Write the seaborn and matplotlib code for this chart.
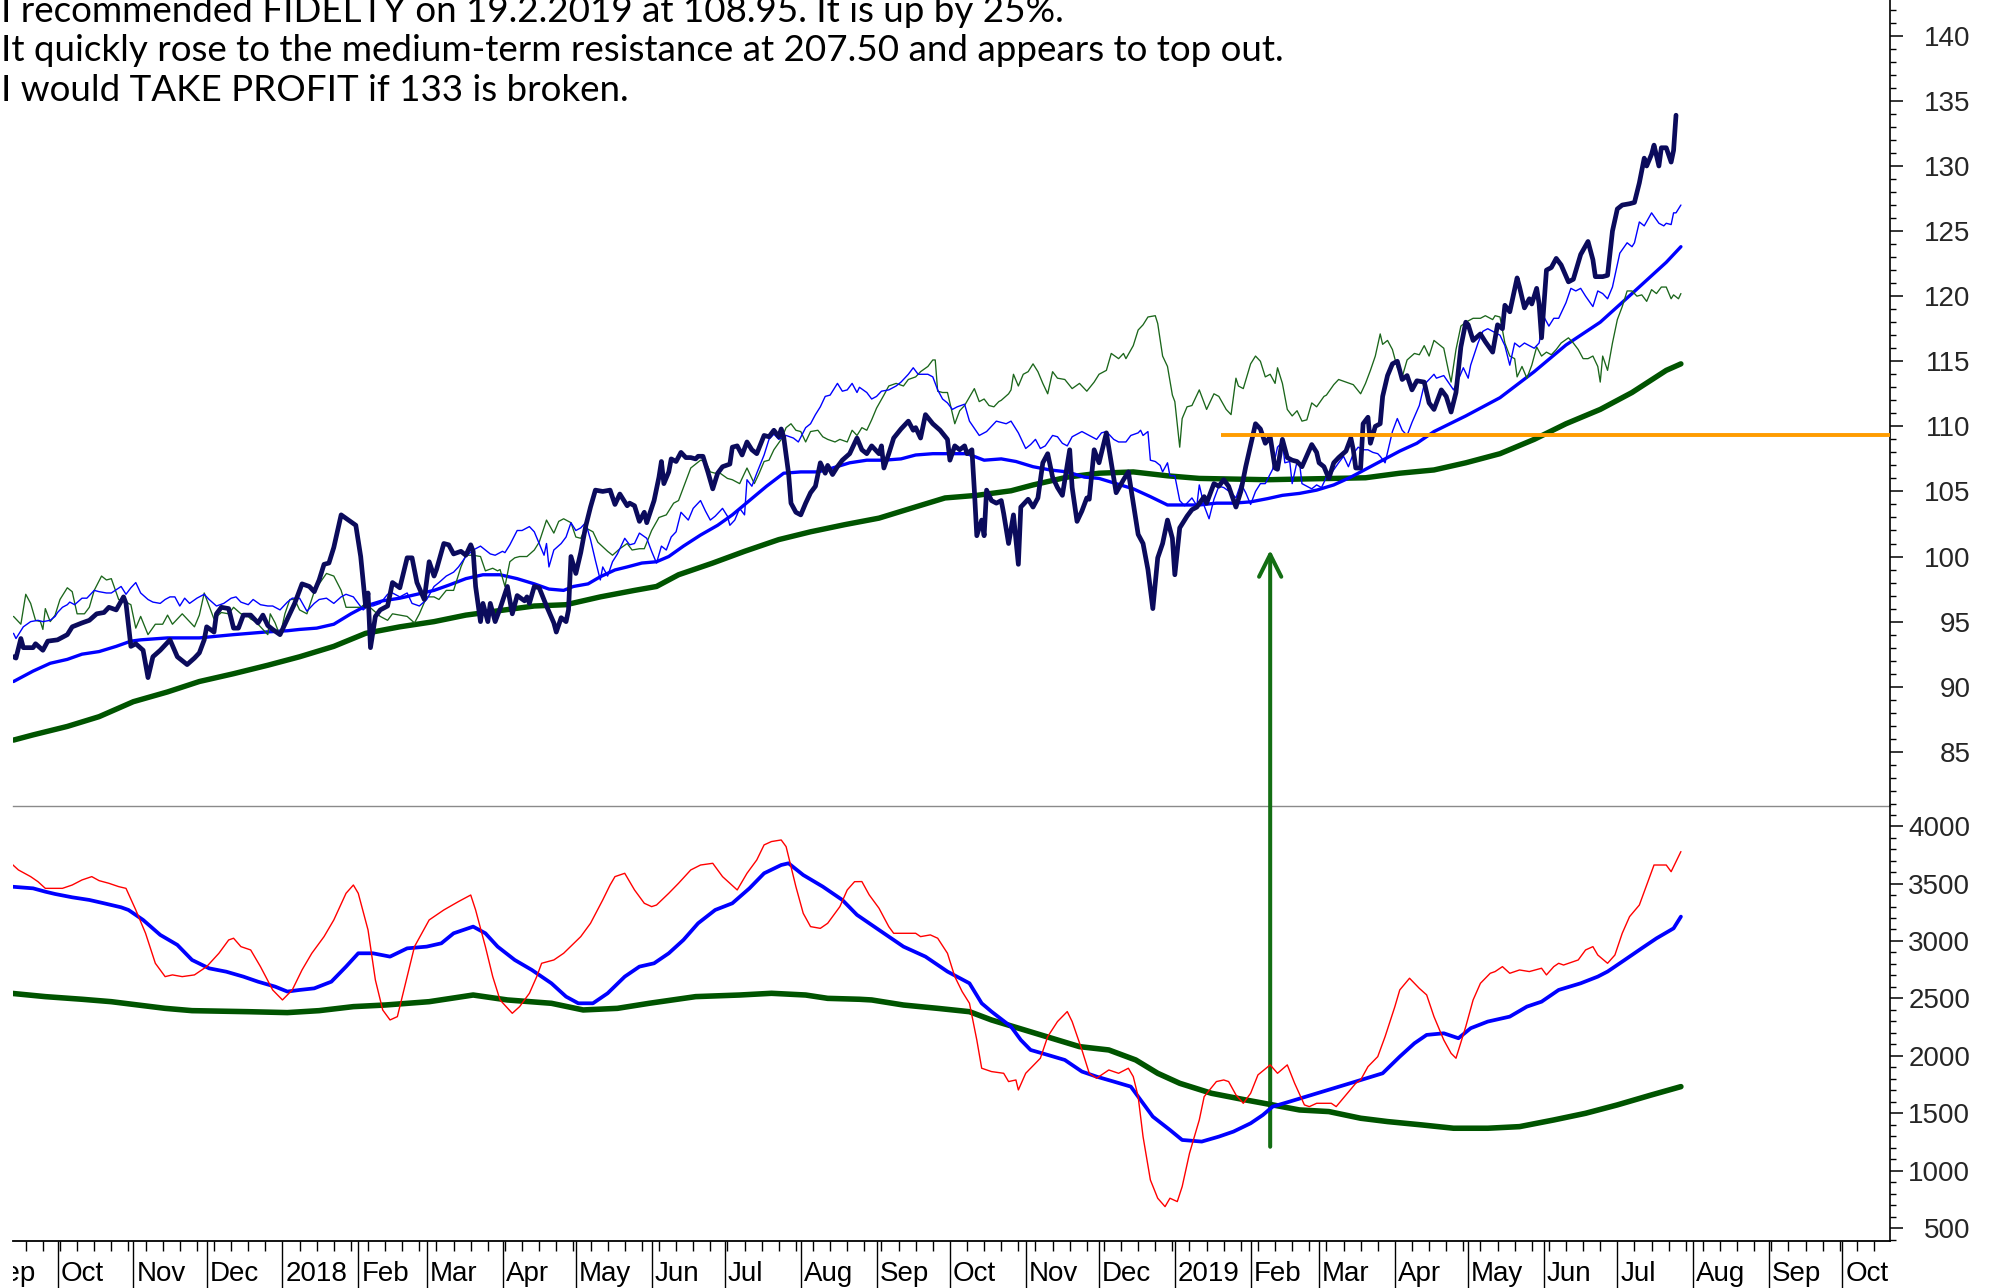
import numpy as np
import pandas as pd
import matplotlib
matplotlib.use("Agg")
import matplotlib.pyplot as plt
import matplotlib.dates as mdates
from matplotlib.ticker import MultipleLocator
from matplotlib.transforms import Bbox, TransformedBbox, ScaledTranslation, blended_transform_factory
import seaborn as sns

# day offsets below are counted from this date
BASE_DATE = pd.Timestamp("2017-10-01")

note_lines = [
    "I recommended FIDELTY on 19.2.2019 at 108.95. It is up by 25%.",
    "It quickly rose to the medium-term resistance at 207.50 and appears to top out.",
    "I would TAKE PROFIT if 133 is broken.",
]

# ---- upper panel (price) : (day, value) ----
price = [
    (-18, 92.3), (-17, 92.2), (-15, 93.7), (-14, 93.0), (-10, 93.0), (-9, 93.3), (-6, 92.8), (-4, 93.5),
    (0, 93.6), (4, 94.0), (6, 94.6), (10, 94.9), (13, 95.1), (16, 95.6), (19, 95.7), (21, 96.1),
    (24, 95.9), (27, 96.9), (28, 96.4), (30, 93.1), (32, 93.3), (35, 92.8), (37, 90.7), (39, 92.3),
    (42, 92.8), (46, 93.6), (49, 92.3), (53, 91.7), (56, 92.2), (58, 92.6), (60, 93.6), (61, 94.6),
    (64, 94.2), (65, 95.6), (67, 96.1), (70, 96.0), (72, 94.5), (74, 94.5), (76, 95.5), (79, 95.5),
    (82, 94.9), (84, 95.5), (86, 94.7), (88, 94.4), (91, 94.0), (94, 95.2), (97, 96.4), (100, 97.9),
    (103, 97.7), (105, 97.3), (107, 98.2), (109, 99.4), (111, 99.5), (113, 100.7), (116, 103.2),
    (119, 102.8), (122, 102.4), (124, 100.0), (126, 96.2), (127, 97.2), (128, 93.0), (130, 95.4),
    (132, 95.9), (135, 96.2), (137, 98.0), (140, 97.6), (143, 99.9), (145, 99.9), (147, 98.0),
    (150, 96.7), (152, 99.6), (154, 98.5), (155, 99.0), (158, 101.0), (160, 100.9), (162, 100.2),
    (165, 100.4), (167, 100.1), (169, 100.9), (170, 100.4), (171, 97.7), (173, 95.0), (174, 96.4),
    (176, 95.0), (177, 96.4), (179, 95.0), (181, 96.0), (184, 97.7), (186, 95.6), (188, 97.0),
    (191, 96.6), (192, 96.9), (193, 96.4), (195, 97.7), (197, 97.6), (200, 96.2), (203, 94.9),
    (204, 94.2), (206, 95.3), (208, 95.0), (209, 95.9), (210, 100.0), (212, 98.7), (214, 100.3),
    (216, 102.3), (218, 103.8), (220, 105.1), (223, 105.0), (226, 105.1), (228, 104.0), (230, 104.8),
    (233, 103.9), (234, 104.1), (236, 103.9), (238, 102.7), (240, 103.4), (241, 102.6), (244, 104.3),
    (246, 106.1), (247, 107.3), (248, 105.6), (250, 106.5), (251, 107.5), (253, 107.3), (255, 108.0),
    (257, 107.6), (259, 107.6), (261, 107.5), (262, 107.7), (264, 107.7), (266, 106.5), (268, 105.2),
    (270, 106.4), (272, 106.9), (275, 107.1), (276, 108.4), (278, 108.5), (280, 107.8), (282, 108.8),
    (284, 108.2), (286, 107.9), (289, 109.3), (291, 109.2), (293, 109.7), (295, 109.2), (296, 109.8),
    (297, 109.2), (299, 106.4), (300, 104.1), (302, 103.4), (304, 103.2), (306, 104.1), (308, 104.9),
    (310, 105.4), (312, 107.2), (314, 106.4), (315, 107.0), (317, 106.3), (319, 106.9), (321, 107.4),
    (324, 107.9), (327, 109.1), (329, 108.2), (331, 107.9), (333, 108.5), (336, 107.9), (337, 108.5),
    (338, 106.8), (340, 107.9), (342, 109.1), (345, 109.8), (348, 110.4), (350, 109.7), (351, 109.9),
    (353, 109.1), (355, 110.9), (358, 110.2), (361, 109.7), (364, 109.0), (365, 107.4), (367, 108.5),
    (369, 108.2), (371, 108.5), (372, 107.9), (374, 108.2), (375, 105.1), (376, 101.6), (378, 102.8),
    (379, 101.6), (380, 105.1), (382, 104.3), (384, 104.1), (386, 104.3), (387, 103.3), (389, 101.0),
    (391, 103.2), (393, 99.4), (394, 103.8), (397, 104.4), (399, 103.8), (401, 104.5), (403, 107.2),
    (405, 107.9), (407, 106.1), (409, 105.3), (411, 104.7), (414, 108.2), (415, 105.3), (417, 102.7),
    (419, 103.5), (421, 104.5), (422, 104.4), (424, 108.2), (426, 107.2), (429, 109.5), (431, 107.2),
    (433, 104.9), (436, 105.9), (438, 106.5), (440, 104.1), (442, 101.7), (444, 101.0), (446, 99.0),
    (448, 96.0), (450, 99.9), (452, 101.0), (454, 102.8), (456, 101.4), (457, 98.6), (459, 102.2),
    (462, 103.1), (464, 103.6), (466, 103.8), (469, 104.6), (470, 104.1), (473, 105.6), (475, 105.4),
    (477, 105.9), (479, 105.4), (482, 103.8), (484, 105.0), (486, 106.9), (490, 110.2), (492, 109.8),
    (494, 108.7), (496, 109.2), (498, 106.8), (499, 106.7), (501, 109.0), (503, 107.6), (505, 107.4),
    (507, 107.3), (509, 106.9), (513, 108.6), (515, 108.0), (516, 107.2), (518, 106.9), (520, 106.0),
    (522, 107.2), (524, 107.6), (527, 108.1), (529, 109.1), (530, 108.2), (531, 106.8), (533, 106.8),
    (534, 110.2), (536, 110.7), (537, 108.7), (539, 110.0), (541, 110.2), (542, 112.3), (544, 113.9),
    (546, 114.8), (548, 115.0), (550, 113.6), (552, 113.9), (554, 112.8), (556, 113.5), (559, 113.4),
    (561, 111.8), (563, 111.3), (566, 112.8), (568, 112.3), (570, 111.1), (572, 112.6), (574, 116.1),
    (576, 118.0), (577, 117.8), (579, 116.6), (582, 117.1), (584, 116.5), (587, 115.7), (589, 117.8),
    (591, 117.5), (592, 119.3), (594, 118.8), (597, 121.4), (598, 120.7), (600, 119.1), (602, 119.8),
    (603, 119.4), (605, 120.6), (606, 119.4), (607, 116.8), (609, 122.0), (611, 122.2), (613, 122.9),
    (615, 122.4), (618, 121.1), (620, 121.3), (623, 123.2), (626, 124.2), (628, 122.8), (629, 121.5),
    (632, 121.5), (634, 121.6), (636, 125.0), (638, 126.7), (640, 127.0), (643, 127.1), (645, 127.2),
    (647, 128.7), (649, 130.6), (650, 130.0), (652, 130.9), (653, 131.6), (655, 130.0), (656, 131.4),
    (658, 131.4), (660, 130.3), (661, 131.2), (662, 133.9),
]

fast_line = [
    (-18, 94.1), (-17, 93.7), (-14, 94.6), (-11, 95.0), (-8, 95.1), (-6, 95.0), (-3, 95.1), (-1, 95.4),
    (0, 95.7), (2, 96.1), (4, 96.3), (5, 96.5), (7, 96.3), (10, 96.8), (12, 96.8), (15, 97.4),
    (17, 97.3), (20, 97.2), (22, 97.2), (26, 97.7), (28, 97.1), (30, 97.6), (32, 98.0), (34, 97.2),
    (37, 96.7), (39, 96.5), (42, 96.4), (44, 96.7), (46, 96.9), (48, 96.9), (50, 96.2), (52, 96.8),
    (54, 96.4), (57, 96.8), (60, 97.1), (62, 96.7), (65, 96.2), (68, 96.4), (71, 96.8), (73, 96.9),
    (75, 96.5), (78, 96.3), (80, 96.7), (83, 96.3), (86, 96.2), (88, 96.2), (91, 95.9), (94, 96.5),
    (96, 96.8), (99, 96.8), (102, 95.8), (105, 96.4), (107, 96.7), (110, 96.8), (113, 96.4),
    (116, 96.9), (118, 97.1), (121, 96.9), (123, 96.4), (125, 95.9), (127, 96.2), (129, 96.2),
    (132, 96.4), (135, 97.1), (137, 97.2), (140, 96.9), (143, 97.2), (145, 96.4), (148, 96.2),
    (151, 96.7), (154, 97.7), (156, 98.0), (159, 98.5), (162, 98.8), (164, 99.2), (167, 100.0),
    (170, 100.5), (173, 100.8), (175, 100.5), (177, 100.2), (179, 100.1), (182, 100.4), (183, 100.3),
    (185, 100.9), (188, 102.0), (190, 102.0), (193, 102.3), (195, 101.9), (197, 101.0), (199, 100.1),
    (200, 101.0), (201, 99.2), (203, 100.5), (206, 101.0), (208, 101.5), (210, 102.6), (212, 102.0),
    (214, 102.2), (216, 102.6), (218, 101.3), (220, 99.7), (222, 98.2), (223, 99.2), (225, 98.5),
    (227, 99.6), (229, 100.2), (232, 101.4), (234, 100.9), (236, 101.0), (238, 101.8), (241, 101.4),
    (243, 100.4), (245, 99.5), (247, 100.8), (249, 100.5), (251, 101.5), (253, 101.9), (255, 103.4),
    (258, 102.8), (260, 103.7), (263, 104.3), (265, 103.5), (267, 102.8), (269, 103.1), (272, 103.7),
    (274, 103.1), (275, 102.4), (277, 102.8), (279, 103.7), (281, 103.2), (282, 105.9), (284, 105.4),
    (286, 106.4), (289, 107.8), (291, 109.0), (293, 109.4), (295, 109.0), (298, 109.3), (301, 109.1),
    (303, 108.8), (306, 109.9), (308, 110.2), (310, 110.9), (312, 111.5), (314, 112.3), (316, 112.4),
    (319, 113.3), (321, 112.7), (323, 112.8), (325, 113.3), (327, 112.6), (328, 113.0), (331, 112.6),
    (333, 112.1), (335, 112.3), (337, 112.7), (340, 112.8), (343, 113.1), (345, 113.4), (348, 114.0),
    (350, 114.5), (352, 114.0), (354, 114.0), (356, 114.0), (358, 113.8), (360, 112.8), (362, 112.1),
    (364, 111.8), (366, 111.3), (368, 111.5), (371, 111.7), (373, 110.4), (377, 109.3), (380, 109.6),
    (384, 110.4), (388, 110.2), (390, 110.4), (393, 109.5), (396, 108.3), (398, 108.6), (400, 109.0),
    (402, 108.3), (404, 108.5), (407, 109.3), (409, 109.2), (411, 108.7), (413, 108.5), (415, 109.2),
    (419, 109.6), (422, 109.3), (425, 109.0), (427, 109.5), (429, 109.6), (432, 109.0), (434, 108.8),
    (437, 108.8), (439, 109.3), (442, 109.5), (443, 109.7), (444, 109.3), (446, 109.6), (447, 107.4),
    (449, 107.3), (451, 107.0), (452, 106.5), (454, 107.2), (455, 106.2), (457, 106.2), (459, 104.3),
    (461, 103.9), (464, 104.5), (466, 103.9), (467, 105.5), (469, 103.9), (471, 102.9), (473, 104.4),
    (475, 105.4), (477, 105.3), (480, 104.9), (482, 104.5), (484, 105.6), (486, 104.9), (488, 104.0),
    (490, 105.0), (492, 105.6), (494, 105.6), (497, 106.7), (499, 108.4), (501, 108.8), (502, 107.2),
    (504, 107.3), (505, 105.6), (507, 107.3), (508, 107.2), (509, 105.6), (511, 105.4), (513, 105.2),
    (515, 105.5), (517, 105.3), (519, 106.1), (521, 106.4), (524, 107.2), (526, 107.7), (528, 106.9),
    (530, 107.9), (532, 108.4), (534, 108.2), (536, 108.2), (538, 108.0), (540, 107.9), (541, 107.7),
    (543, 107.2), (546, 109.6), (548, 110.6), (550, 109.7), (552, 109.3), (554, 110.3), (557, 111.6),
    (559, 113.2), (560, 113.4), (563, 114.0), (564, 113.7), (567, 113.9), (571, 112.8), (573, 113.6),
    (575, 114.5), (577, 113.7), (578, 114.7), (581, 116.4), (583, 117.3), (585, 117.5), (588, 117.2),
    (590, 117.0), (592, 116.2), (594, 114.7), (596, 116.4), (598, 116.1), (600, 116.4), (604, 116.0),
    (606, 116.4), (607, 117.4), (608, 118.4), (610, 117.7), (612, 118.3), (614, 118.3), (617, 119.5),
    (619, 120.6), (621, 120.4), (623, 120.6), (625, 120.0), (628, 119.2), (630, 120.4), (632, 120.2),
    (634, 119.8), (636, 120.7), (639, 123.3), (642, 124.1), (644, 123.8), (645, 124.1), (647, 125.7),
    (649, 125.4), (652, 126.4), (655, 125.6), (657, 125.4), (658, 125.6), (660, 125.5), (661, 126.4),
    (662, 126.4), (664, 127.0),
]

green_line = [
    (-18, 95.4), (-15, 94.8), (-13, 97.1), (-11, 96.4), (-9, 95.1), (-7, 95.0), (-6, 94.4), (-5, 96.0),
    (-3, 95.0), (-1, 95.5), (1, 96.7), (4, 97.6), (6, 97.3), (8, 95.6), (11, 95.6), (13, 96.1),
    (15, 97.4), (18, 98.5), (20, 98.2), (22, 98.3), (25, 96.7), (28, 96.5), (30, 96.3), (32, 94.5),
    (34, 95.4), (37, 94.0), (40, 94.8), (43, 94.8), (45, 95.5), (47, 94.8), (51, 95.6), (53, 95.2),
    (56, 94.6), (58, 95.5), (60, 97.2), (62, 96.2), (64, 95.2), (67, 95.7), (70, 95.6), (72, 96.1),
    (75, 95.6), (77, 95.6), (79, 95.2), (81, 95.0), (83, 94.6), (86, 94.0), (87, 95.6), (89, 94.9),
    (91, 93.9), (93, 95.6), (95, 96.7), (97, 96.7), (99, 95.9), (102, 95.6), (105, 97.3), (107, 97.9),
    (110, 98.7), (113, 98.5), (116, 97.4), (118, 96.1), (121, 96.1), (124, 96.1), (126, 96.4),
    (129, 95.9), (132, 95.4), (135, 95.1), (137, 95.6), (140, 95.5), (143, 95.4), (146, 94.9),
    (148, 95.6), (151, 96.9), (154, 96.9), (156, 96.7), (159, 97.4), (162, 97.4), (165, 99.2),
    (167, 100.1), (170, 100.1), (173, 100.0), (175, 98.9), (178, 99.1), (180, 98.9), (181, 99.0),
    (183, 97.7), (185, 99.6), (187, 99.9), (189, 100.0), (192, 100.0), (195, 100.5), (197, 101.1),
    (200, 102.8), (203, 101.8), (205, 102.7), (207, 102.9), (210, 102.6), (212, 101.5), (214, 101.4),
    (216, 102.2), (219, 101.9), (221, 101.1), (225, 100.4), (227, 100.1), (230, 100.6), (233, 101.0),
    (235, 100.5), (238, 100.6), (240, 100.6), (243, 102.0), (246, 103.0), (249, 103.2), (252, 104.1),
    (254, 104.3), (257, 105.8), (259, 106.8), (263, 107.4), (265, 107.3), (267, 106.5), (269, 106.4),
    (271, 106.4), (274, 106.0), (276, 105.9), (279, 105.6), (282, 106.8), (285, 105.6), (287, 106.4),
    (289, 107.3), (291, 107.4), (293, 108.2), (296, 109.0), (298, 109.9), (300, 110.2), (302, 109.7),
    (304, 109.6), (306, 108.8), (308, 109.6), (311, 109.7), (313, 109.2), (315, 109.0), (318, 108.8),
    (320, 109.0), (323, 108.8), (325, 109.7), (327, 109.3), (329, 109.9), (331, 109.7), (333, 110.5),
    (335, 111.4), (338, 112.4), (340, 113.1), (343, 113.3), (346, 113.1), (348, 113.6), (351, 113.8),
    (353, 114.2), (356, 114.6), (358, 115.1), (359, 115.1), (360, 112.7), (362, 112.6), (364, 112.6),
    (367, 110.2), (369, 111.2), (371, 111.6), (375, 112.9), (377, 111.9), (379, 112.1), (381, 111.6),
    (383, 111.5), (385, 111.9), (386, 112.0), (389, 112.5), (390, 112.8), (391, 114.0), (393, 113.1),
    (395, 114.0), (397, 114.2), (399, 114.8), (401, 114.2), (403, 113.3), (405, 112.5), (407, 114.2),
    (409, 113.7), (412, 113.6), (415, 112.9), (418, 113.3), (421, 112.7), (424, 113.4), (426, 114.0),
    (429, 114.3), (431, 115.6), (434, 115.2), (436, 115.6), (437, 115.2), (440, 116.2), (442, 117.4),
    (444, 117.8), (446, 118.4), (449, 118.5), (450, 117.9), (452, 115.4), (454, 114.6), (456, 112.4),
    (457, 111.9), (459, 108.4), (460, 110.6), (462, 111.5), (464, 111.6), (467, 112.8), (468, 112.3),
    (470, 111.3), (473, 112.5), (475, 112.3), (478, 111.3), (480, 110.9), (482, 113.7), (483, 113.1),
    (485, 112.9), (488, 114.8), (490, 115.4), (492, 115.0), (494, 113.8), (496, 114.0), (498, 113.3),
    (499, 114.5), (501, 113.3), (503, 111.3), (505, 110.8), (507, 111.2), (509, 110.4), (511, 110.5),
    (513, 111.8), (515, 111.5), (518, 112.3), (519, 112.4), (522, 113.2), (524, 113.6), (527, 113.4),
    (530, 113.2), (533, 112.5), (535, 113.3), (537, 114.3), (539, 115.4), (541, 117.1), (542, 116.3),
    (544, 116.6), (546, 115.9), (548, 114.5), (550, 113.8), (552, 115.1), (555, 115.6), (557, 115.5),
    (559, 116.2), (561, 115.4), (563, 116.6), (565, 116.3), (567, 116.0), (569, 114.2), (570, 113.4),
    (572, 115.9), (574, 117.7), (576, 118.0), (579, 118.3), (582, 118.3), (584, 118.5), (587, 118.2),
    (588, 118.5), (590, 118.4), (592, 116.4), (594, 115.4), (596, 115.2), (597, 113.8), (599, 114.6),
    (601, 113.7), (603, 114.7), (605, 116.1), (607, 115.4), (609, 115.7), (611, 115.5), (613, 115.9),
    (615, 116.4), (618, 116.8), (620, 116.4), (622, 115.9), (624, 115.2), (626, 115.2), (628, 115.4),
    (630, 114.6), (631, 113.4), (632, 115.4), (634, 114.3), (636, 116.4), (638, 118.2), (640, 119.2),
    (642, 120.4), (644, 120.4), (646, 120.0), (648, 120.1), (650, 119.6), (652, 120.5), (654, 120.2),
    (656, 120.7), (658, 120.7), (660, 119.8), (661, 120.1), (663, 119.8), (664, 120.2),
]

ma_medium = [
    (-18, 90.4), (-10, 91.2), (-3, 91.8), (4, 92.1), (10, 92.5), (17, 92.7), (24, 93.1), (30, 93.5),
    (34, 93.6), (45, 93.75), (58, 93.75), (72, 94.0), (85, 94.2), (94, 94.3), (99, 94.4), (106, 94.5),
    (113, 94.8), (120, 95.6), (126, 96.2), (133, 96.6), (140, 96.8), (147, 97.1), (154, 97.4),
    (160, 97.8), (167, 98.3), (174, 98.6), (181, 98.6), (188, 98.3), (195, 97.9), (201, 97.5),
    (207, 97.4), (211, 97.7), (217, 97.9), (222, 98.45), (228, 98.97), (233, 99.2), (239, 99.5),
    (245, 99.6), (250, 100.0), (256, 100.8), (263, 101.65), (270, 102.4), (276, 103.2), (283, 104.3),
    (290, 105.4), (297, 106.4), (304, 106.5), (311, 106.5), (317, 106.8), (324, 107.2), (331, 107.4),
    (338, 107.4), (345, 107.5), (351, 107.8), (358, 107.9), (365, 107.9), (372, 107.9), (379, 107.4),
    (386, 107.5), (392, 107.3), (399, 106.9), (406, 106.65), (413, 106.5), (420, 106.1), (426, 106.0),
    (433, 105.6), (440, 105.2), (447, 104.6), (454, 103.96), (460, 103.96), (467, 103.96),
    (474, 104.1), (481, 104.1), (488, 104.2), (495, 104.45), (501, 104.7), (508, 104.85), (515, 105.1),
    (522, 105.5), (529, 106.1), (536, 106.8), (542, 107.4), (549, 108.1), (556, 108.7), (563, 109.6),
    (576, 110.8), (590, 112.2), (604, 114.2), (617, 116.25), (631, 118.0), (644, 120.2),
    (658, 122.6), (664, 123.8),
]

ma_long = [
    (-18, 85.9), (-10, 86.3), (4, 86.95), (17, 87.7), (31, 88.85), (45, 89.6), (58, 90.4), (72, 91.0),
    (86, 91.65), (99, 92.3), (113, 93.1), (126, 94.1), (140, 94.6), (154, 95.0), (167, 95.5),
    (181, 95.85), (195, 96.2), (208, 96.3), (222, 96.9), (236, 97.4), (245, 97.7), (254, 98.6),
    (268, 99.5), (281, 100.4), (295, 101.3), (308, 101.9), (322, 102.45), (336, 102.95), (349, 103.7),
    (363, 104.5), (376, 104.7), (390, 105.05), (399, 105.5), (413, 106.1), (426, 106.4), (440, 106.5),
    (454, 106.2), (467, 106.0), (481, 105.95), (495, 105.9), (508, 105.95), (522, 106.0),
    (535, 106.05), (549, 106.4), (563, 106.65), (576, 107.2), (590, 107.9), (604, 109.0),
    (617, 110.2), (631, 111.3), (644, 112.6), (658, 114.3), (664, 114.8),
]

resistance_level = 109.35
resistance_start_day = 476

# ---- lower panel (oscillator) : (day, value) ----
osc = [
    (-19, 3676), (-16, 3618), (-11, 3560), (-8, 3516), (-5, 3458), (2, 3458), (6, 3487), (10, 3531),
    (14, 3560), (17, 3525), (21, 3502), (25, 3473), (28, 3458), (32, 3270), (36, 3067), (40, 2806),
    (44, 2690), (47, 2705), (51, 2690), (56, 2705), (61, 2777), (66, 2893), (70, 3009), (72, 3024),
    (75, 2951), (79, 2922), (83, 2777), (88, 2574), (92, 2487), (96, 2574), (100, 2748), (104, 2893),
    (109, 3038), (113, 3183), (118, 3415), (121, 3487), (123, 3415), (127, 3096), (130, 2661),
    (133, 2400), (136, 2313), (139, 2342), (142, 2603), (146, 2951), (149, 3067), (152, 3183),
    (158, 3270), (164, 3343), (169, 3400), (171, 3270), (175, 2951), (178, 2690), (181, 2487),
    (186, 2371), (189, 2429), (193, 2545), (196, 2690), (198, 2806), (203, 2835), (207, 2893),
    (214, 3038), (218, 3154), (223, 3357), (226, 3487), (228, 3560), (232, 3589), (236, 3444),
    (240, 3328), (243, 3299), (245, 3313), (250, 3415), (254, 3502), (259, 3618), (263, 3661),
    (268, 3676), (272, 3560), (278, 3444), (282, 3589), (286, 3705), (289, 3836), (292, 3865),
    (296, 3879), (298, 3821), (302, 3473), (305, 3241), (308, 3125), (312, 3110), (315, 3154),
    (320, 3299), (323, 3444), (326, 3516), (329, 3517), (332, 3401), (336, 3285), (340, 3125),
    (342, 3067), (351, 3067), (353, 3038), (357, 3053), (360, 3024), (364, 2893), (367, 2690),
    (370, 2560), (373, 2458), (376, 2139), (378, 1893), (382, 1864), (387, 1849), (389, 1777),
    (392, 1791), (393, 1704), (396, 1849), (400, 1936), (402, 1980), (405, 2168), (409, 2299),
    (411, 2342), (413, 2386), (415, 2299), (419, 2052), (422, 1849), (425, 1806), (430, 1878),
    (434, 1849), (438, 1893), (440, 1820), (442, 1646), (444, 1298), (447, 921), (450, 762),
    (453, 689), (455, 762), (458, 733), (460, 863), (463, 1153), (467, 1443), (469, 1646),
    (474, 1777), (477, 1791), (479, 1777), (482, 1661), (485, 1588), (488, 1675), (491, 1835),
    (496, 1922), (499, 1849), (503, 1922), (506, 1762), (510, 1574), (512, 1559), (515, 1588),
    (521, 1588), (523, 1559), (527, 1661), (531, 1762), (533, 1791), (536, 1907), (540, 1994),
    (543, 2168), (547, 2429), (549, 2574), (553, 2676), (557, 2588), (560, 2531), (563, 2342),
    (567, 2139), (570, 2023), (572, 1980), (576, 2255), (579, 2487), (582, 2632), (586, 2719),
    (588, 2734), (591, 2777), (594, 2719), (598, 2748), (602, 2734), (607, 2763), (609, 2705),
    (612, 2777), (614, 2806), (616, 2791), (622, 2835), (625, 2922), (628, 2951), (630, 2878),
    (634, 2806), (637, 2878), (640, 3067), (643, 3212), (647, 3313), (650, 3488), (653, 3661),
    (658, 3661), (660, 3603), (664, 3778),
]

osc_fast = [
    (-19, 3473), (-10, 3458), (-5, 3429), (-1, 3409), (6, 3380), (13, 3357), (19, 3328), (26, 3293),
    (29, 3270), (35, 3183), (42, 3053), (49, 2966), (55, 2835), (62, 2762), (69, 2733), (76, 2690),
    (82, 2646), (89, 2603), (94, 2560), (99, 2574), (105, 2588), (112, 2646), (118, 2777), (123, 2893),
    (129, 2893), (136, 2864), (143, 2936), (151, 2951), (157, 2980), (162, 3067), (170, 3125),
    (175, 3067), (180, 2951), (187, 2835), (194, 2748), (202, 2632), (208, 2516), (213, 2458),
    (219, 2458), (225, 2545), (232, 2690), (238, 2777), (244, 2806), (250, 2893), (256, 3009),
    (262, 3154), (269, 3270), (276, 3328), (283, 3458), (289, 3589), (296, 3661), (299, 3676),
    (305, 3574), (313, 3473), (321, 3357), (327, 3227), (338, 3067), (346, 2951), (355, 2864),
    (364, 2734), (373, 2632), (378, 2458), (382, 2386), (390, 2255), (394, 2139), (398, 2052),
    (405, 2009), (412, 1965), (419, 1864), (425, 1820), (432, 1777), (439, 1733), (443, 1617),
    (448, 1472), (455, 1356), (460, 1269), (468, 1255), (475, 1298), (481, 1342), (488, 1414),
    (493, 1486), (497, 1559), (504, 1603), (513, 1661), (522, 1719), (531, 1777), (542, 1849),
    (549, 1994), (555, 2110), (560, 2183), (567, 2197), (573, 2154), (578, 2241), (585, 2299),
    (594, 2342), (601, 2429), (607, 2472), (614, 2574), (623, 2632), (630, 2690), (634, 2734),
    (641, 2835), (648, 2937), (654, 3023), (661, 3110), (664, 3212),
]

osc_slow = [
    (-19, 2545), (-5, 2516), (10, 2493), (22, 2472), (33, 2443), (44, 2414), (55, 2394), (78, 2385),
    (94, 2377), (107, 2394), (121, 2429), (134, 2443), (152, 2472), (170, 2530), (184, 2487),
    (202, 2458), (215, 2400), (229, 2414), (242, 2458), (261, 2516), (279, 2530), (292, 2545),
    (306, 2530), (315, 2501), (328, 2493), (333, 2487), (346, 2443), (360, 2414), (373, 2385),
    (382, 2313), (391, 2255), (400, 2197), (409, 2139), (418, 2081), (430, 2052), (441, 1965),
    (450, 1849), (459, 1762), (472, 1675), (486, 1617), (497, 1574), (508, 1530), (520, 1516),
    (533, 1458), (544, 1429), (558, 1400), (571, 1371), (585, 1371), (598, 1385), (612, 1443),
    (625, 1501), (638, 1574), (652, 1661), (664, 1733),
]

# signal arrow (recommendation day), from lower panel value up to upper panel value
arrow_day = 496
arrow_from = 1210
arrow_to = 100.5

view_start_day, view_end_day = -18.3, 749.4


def to_frame(pairs):
    df = pd.DataFrame(pairs, columns=["day", "value"])
    df["date"] = BASE_DATE + pd.to_timedelta(df["day"], unit="D")
    return df


sns.set_theme(style="white")
plt.rcParams["font.family"] = ["Liberation Sans", "DejaVu Sans"]

W, H = 2002, 1288
fig = plt.figure(figsize=(W / 100, H / 100), dpi=100)
left, right = 12.8 / W, 1889.7 / W
split = 1 - 805.7 / H
bottom = 1 - 1241 / H
ax_top = fig.add_axes([left, split, right - left, 1 - split])
ax_bot = fig.add_axes([left, bottom, right - left, split - bottom], sharex=ax_top)
# transparent panels so the signal arrow can run through both
ax_top.patch.set_visible(False)
ax_bot.patch.set_visible(False)

NAVY = "#0b0b5c"
BLUE = "#0000ff"
DKGREEN = "#005400"
GREEN = "#1b661b"
RED = "#ff0000"
ORANGE = "#ff9c00"

def draw(ax, pairs, color, lw):
    df = to_frame(pairs)
    sns.lineplot(data=df, x="date", y="value", ax=ax, color=color, linewidth=lw,
                 estimator=None, sort=False, legend=False)

draw(ax_top, ma_long, DKGREEN, 3.9)
draw(ax_top, ma_medium, BLUE, 2.4)
draw(ax_top, green_line, GREEN, 0.95)
draw(ax_top, fast_line, BLUE, 1.0)
draw(ax_top, price, NAVY, 3.4)

x0 = BASE_DATE + pd.Timedelta(days=view_start_day)
x1 = BASE_DATE + pd.Timedelta(days=view_end_day)
ax_top.hlines(resistance_level, BASE_DATE + pd.Timedelta(days=resistance_start_day), x1,
              color=ORANGE, linewidth=2.8, zorder=5)

draw(ax_bot, osc_slow, DKGREEN, 4.0)
draw(ax_bot, osc_fast, BLUE, 2.7)
draw(ax_bot, osc, RED, 1.0)

ax_bot.set_xlim(x0, x1)
ax_top.set_ylim(80.86, 142.75)
ax_bot.set_ylim(390, 4177)

for ax in (ax_top, ax_bot):
    ax.set_xlabel("")
    ax.set_ylabel("")
    ax.spines["left"].set_visible(False)
    ax.spines["top"].set_visible(False)
    ax.spines["right"].set_color("black")
    ax.spines["right"].set_linewidth(1.2)
    ax.yaxis.tick_right()
    ax.tick_params(axis="y", which="major", direction="out", length=9, width=1.1,
                   color="black", labelsize=20, pad=49, right=True, left=False)
    ax.tick_params(axis="y", which="minor", direction="out", length=4.5, width=1.0,
                   color="black", right=True, left=False)

ax_top.spines["bottom"].set_color("#8a8a8a")
ax_top.spines["bottom"].set_linewidth(1.0)
ax_bot.spines["bottom"].set_color("black")
ax_bot.spines["bottom"].set_linewidth(1.3)

ax_top.yaxis.set_major_locator(MultipleLocator(5))
ax_top.yaxis.set_minor_locator(MultipleLocator(1))
ax_bot.yaxis.set_major_locator(MultipleLocator(500))
ax_bot.yaxis.set_minor_locator(MultipleLocator(100))
for ax in (ax_top, ax_bot):
    ax.yaxis.set_major_formatter(plt.FuncFormatter(lambda v, p: f"{v:.0f}"))
    plt.setp(ax.get_yticklabels(), ha="right")

ax_bot.xaxis.set_major_locator(mdates.MonthLocator())
ax_bot.xaxis.set_minor_locator(mdates.WeekdayLocator(byweekday=mdates.MO))
ax_top.tick_params(axis="x", which="both", bottom=False, labelbottom=False)
ax_bot.tick_params(axis="x", which="major", direction="out", length=34, width=1.0,
                   color="black", bottom=True, labelbottom=False)
ax_bot.tick_params(axis="x", which="minor", direction="out", length=7, width=1.0,
                   color="black", bottom=True)

# month names sit just right of each month line, clipped to the plot width
clip = TransformedBbox(Bbox([[left, 0], [right, 1]]), fig.transFigure)
lab_trans = blended_transform_factory(ax_bot.transData, ax_bot.transAxes) + \
    ScaledTranslation(3 / 100, -40 / 100, fig.dpi_scale_trans)
for m in pd.date_range("2017-09-01", "2019-10-01", freq="MS"):
    name = str(m.year) if m.month == 1 else m.strftime("%b")
    t = ax_bot.text(mdates.date2num(m), 0, name, transform=lab_trans, ha="left",
                    va="baseline", fontsize=20, color="black")
    t.set_clip_box(clip)
    t.set_clip_on(True)

# arrow from the lower panel up into the price panel
ad = mdates.date2num(BASE_DATE + pd.Timedelta(days=arrow_day))
ax_top.annotate("", xy=(ad, arrow_to), xycoords="data",
                xytext=(ad, arrow_from), textcoords=ax_bot.transData,
                arrowprops=dict(arrowstyle="->,head_length=0.4,head_width=0.2",
                                color="#136e13", lw=2.9, mutation_scale=40,
                                shrinkA=0, shrinkB=0),
                annotation_clip=False, zorder=6)

for line, base_px in zip(note_lines, [22, 61, 101]):
    fig.text(0.0005, 1 - base_px / H, line, fontsize=26.5, va="baseline", ha="left",
             family=["Lato", "DejaVu Sans"], color="black")

fig.savefig("out.png", dpi=100)
plt.close(fig)
